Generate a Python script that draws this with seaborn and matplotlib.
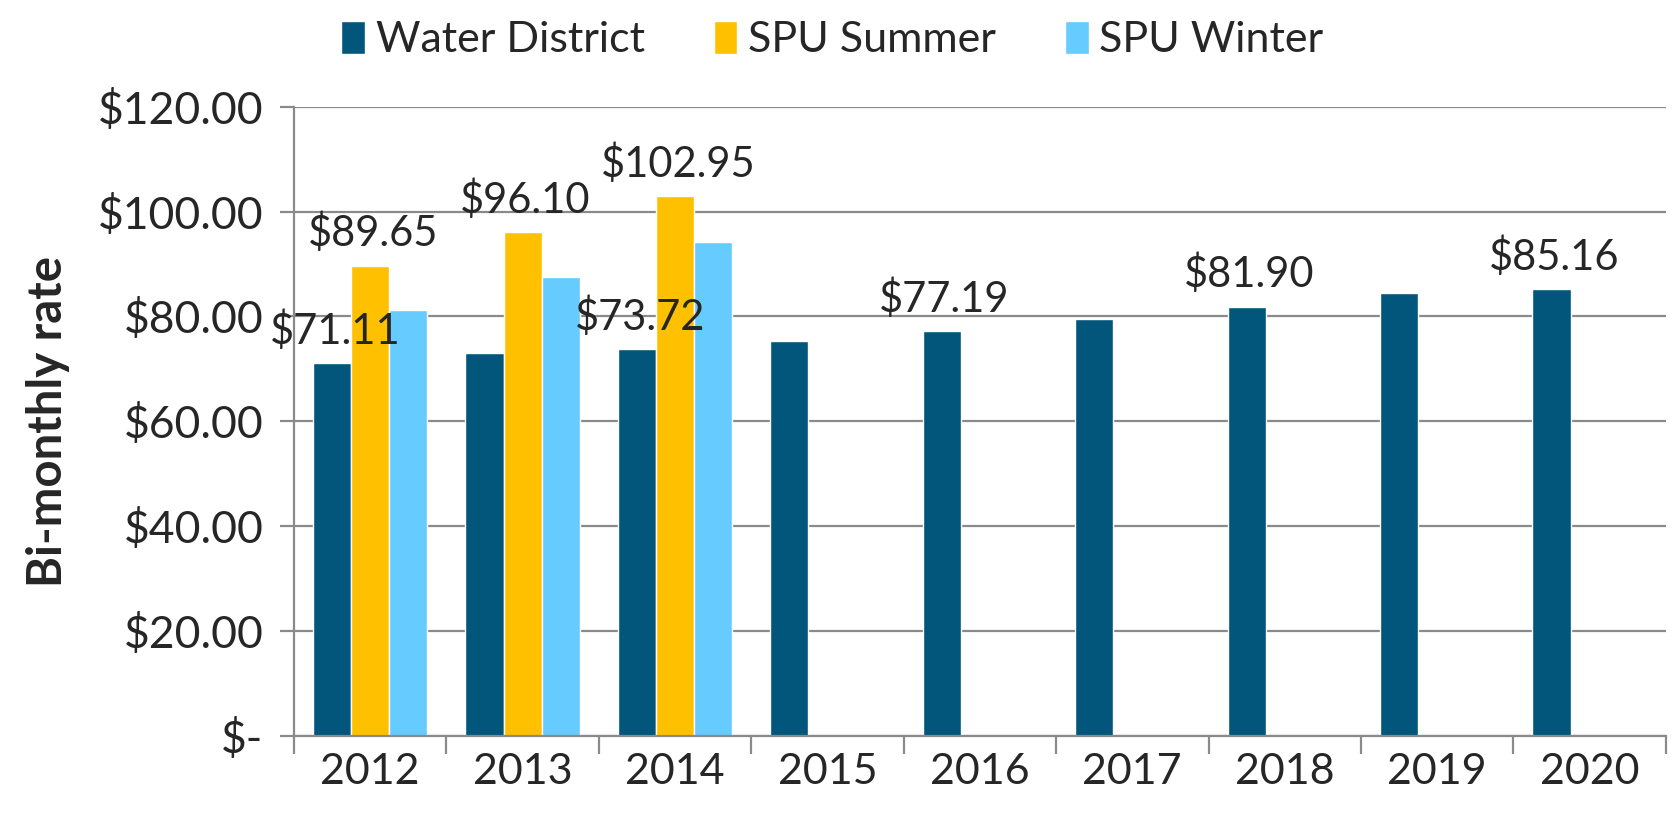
import numpy as np
import pandas as pd
import seaborn as sns
import matplotlib
matplotlib.use("Agg")
import matplotlib.pyplot as plt
from matplotlib.ticker import FuncFormatter, MultipleLocator

years = ["2012", "2013", "2014", "2015", "2016", "2017", "2018", "2019", "2020"]
water_district = [71.11, 73.0, 73.72, 75.3, 77.19, 79.6, 81.90, 84.4, 85.16]
spu_summer = [89.65, 96.10, 102.95, np.nan, np.nan, np.nan, np.nan, np.nan, np.nan]
spu_winter = [81.3, 87.6, 94.2, np.nan, np.nan, np.nan, np.nan, np.nan, np.nan]
series = ["Water District", "SPU Summer", "SPU Winter"]
colors = ["#02567C", "#FFC000", "#66CCFF"]

# which bars carry a value label (series index, year index)
labelled = [(0, 0), (1, 0), (1, 1), (1, 2), (0, 2), (0, 4), (0, 6), (0, 8)]

sns.set_style("white")
plt.rcParams['font.family'] = ['Lato', 'DejaVu Sans']

df = pd.DataFrame({
    "year": years * 3,
    "series": [s for s in series for _ in years],
    "rate": water_district + spu_summer + spu_winter,
})

fig = plt.figure(figsize=(16.75, 8.15), dpi=100)
ax = fig.add_axes([0.1755, 0.097, 0.819, 0.772])

sns.barplot(data=df, x="year", y="rate", hue="series", hue_order=series,
            palette=colors, order=years, width=0.75, saturation=1, ax=ax)

ax.set_ylim(0, 120)
ax.set_xlim(-0.5, len(years) - 0.5)
ax.yaxis.set_major_locator(MultipleLocator(20))
ax.yaxis.set_major_formatter(FuncFormatter(lambda v, p: "$-" if v == 0 else "${:.2f}".format(v)))
ax.grid(axis="y", color="#8a8a8a", linewidth=1.6)
ax.set_axisbelow(True)

for side in ["top", "right"]:
    ax.spines[side].set_visible(False)
for side in ["left", "bottom"]:
    ax.spines[side].set_color("#8a8a8a")
    ax.spines[side].set_linewidth(1.6)

ax.tick_params(axis="y", labelsize=32, length=10, width=1.6, color="#8a8a8a", direction="out", pad=12, left=True)
ax.tick_params(axis="x", which="major", labelsize=31, length=0, pad=12)
ax.set_xticks(np.arange(-0.5, len(years)), minor=True)
ax.tick_params(axis="x", which="minor", length=13, width=1.6, color="#8a8a8a", direction="out", bottom=True)

ax.set_xlabel("")
ax.set_ylabel("Bi-monthly rate", fontsize=34, fontweight="bold", labelpad=20)

vals = [water_district, spu_summer, spu_winter]
for si, yi in labelled:
    bar = ax.containers[si][yi]
    x = bar.get_x() + bar.get_width() / 2
    ax.annotate("${:.2f}".format(vals[si][yi]), (x, bar.get_height()),
                xytext=(2, 9), textcoords="offset points",
                ha="center", va="bottom", fontsize=30)

handles, labels = ax.get_legend_handles_labels()
ax.get_legend().remove()
fig.legend(handles, labels, loc="upper center", bbox_to_anchor=(0.497, 1.022), ncol=3,
           frameon=False, fontsize=31, handlelength=0.55, handleheight=0.8,
           handletextpad=0.25, columnspacing=1.6)

fig.savefig("out.png", dpi=100)
